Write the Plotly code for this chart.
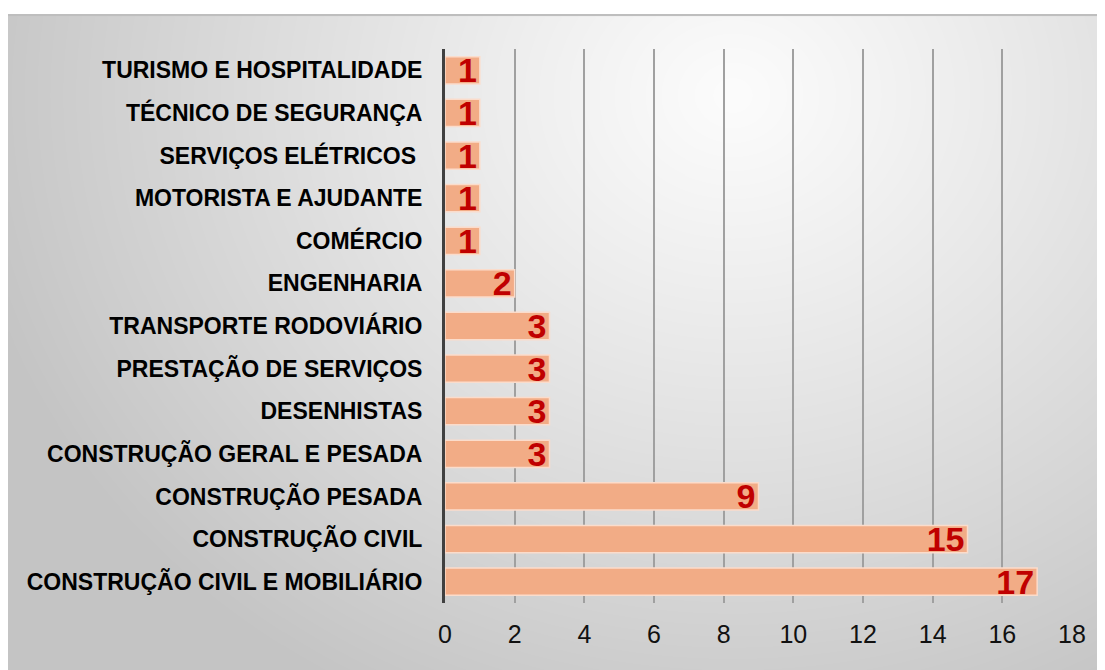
import base64
import struct
import zlib

import numpy as np
import plotly.graph_objects as go

# ---- data (top to bottom) ----
categories = [
    "TURISMO E HOSPITALIDADE",
    "TÉCNICO DE SEGURANÇA",
    "SERVIÇOS ELÉTRICOS ",
    "MOTORISTA E AJUDANTE",
    "COMÉRCIO",
    "ENGENHARIA",
    "TRANSPORTE RODOVIÁRIO",
    "PRESTAÇÃO DE SERVIÇOS",
    "DESENHISTAS",
    "CONSTRUÇÃO GERAL E PESADA",
    "CONSTRUÇÃO PESADA",
    "CONSTRUÇÃO CIVIL",
    "CONSTRUÇÃO CIVIL E MOBILIÁRIO",
]
values = [1, 1, 1, 1, 1, 2, 3, 3, 3, 3, 9, 15, 17]
x_ticks = [0, 2, 4, 6, 8, 10, 12, 14, 16, 18]

# page offset of the plot div (default body margin)
OFF = 8

# ---- background gradient image (PNG via zlib) ----
W, H = 1098, 656
yy, xx = np.mgrid[0:H, 0:W].astype(float)
cx, cy = 720.0, 80.0
rx, ry = 780.0, 680.0
d = np.sqrt(((xx - cx) / rx) ** 2 + ((yy - cy) / ry) ** 2)
d = np.clip(d, 0, 1)
g = 252 - 56 * d ** 1.1
g[0:2, :] = 190
g[:, 0] = 205
img = g.astype(np.uint8)
rgb = np.repeat(img[:, :, None], 3, axis=2)
raw = b"".join(b"\x00" + rgb[r].tobytes() for r in range(H))


def chunk(tag, data):
    c = struct.pack(">I", len(data)) + tag + data
    return c + struct.pack(">I", zlib.crc32(tag + data) & 0xFFFFFFFF)


png = b"\x89PNG\r\n\x1a\n"
png += chunk(b"IHDR", struct.pack(">IIBBBBB", W, H, 8, 2, 0, 0, 0))
png += chunk(b"IDAT", zlib.compress(raw, 9))
png += chunk(b"IEND", b"")
uri = "data:image/png;base64," + base64.b64encode(png).decode()

# layout geometry (pixels, in figure coordinates)
FW, FH = 1105, 670
ML = 445 - OFF
MT = 49 - OFF
MR = FW - (1072 - OFF)
MB = FH - (603 - OFF)
PW = FW - ML - MR
PH = FH - MT - MB


def px_to_paper_x(px):
    return (px - OFF - ML) / PW


def py_to_paper_y(py):
    return (FH - MB - (py - OFF)) / PH


font = "Liberation Sans, Arial, sans-serif"

fig = go.Figure()
fig.add_trace(
    go.Bar(
        x=values,
        y=categories,
        orientation="h",
        width=0.64,
        marker=dict(color="#F2AC86", line=dict(color="#FBDCCB", width=1.5)),
        text=[str(v) for v in values],
        textposition="inside",
        insidetextanchor="end",
        textangle=0,
        constraintext="none",
        textfont=dict(family=font, size=34, color="#C00000", weight="bold"),
        cliponaxis=False,
        hoverinfo="skip",
    )
)

fig.update_layout(
    width=FW,
    height=FH,
    margin=dict(l=ML, r=MR, t=MT, b=MB, pad=0, autoexpand=False),
    paper_bgcolor="white",
    plot_bgcolor="rgba(0,0,0,0)",
    showlegend=False,
    images=[
        dict(
            source=uri,
            xref="paper",
            yref="paper",
            x=px_to_paper_x(7),
            y=py_to_paper_y(14),
            sizex=(FW - 7 + OFF) / PW,
            sizey=(FH - 14 + OFF) / PH,
            sizing="stretch",
            xanchor="left",
            yanchor="top",
            layer="below",
        )
    ],
    xaxis=dict(
        range=[0, 18],
        tickvals=x_ticks,
        ticktext=[str(t) for t in x_ticks],
        showgrid=True,
        gridcolor="#a0a0a0",
        gridwidth=1.5,
        zeroline=False,
        showline=False,
        ticks="",
        automargin=False,
        ticklabelstandoff=14,
        tickfont=dict(family=font, size=25, color="#111111"),
    ),
    yaxis=dict(
        autorange="reversed",
        showgrid=False,
        zeroline=False,
        showline=True,
        linecolor="#404040",
        linewidth=3,
        ticks="",
        automargin=False,
        ticklabelstandoff=15,
        tickfont=dict(family=font, size=23, color="#000000", weight="bold"),
    ),
)

fig.write_html("out.html")
